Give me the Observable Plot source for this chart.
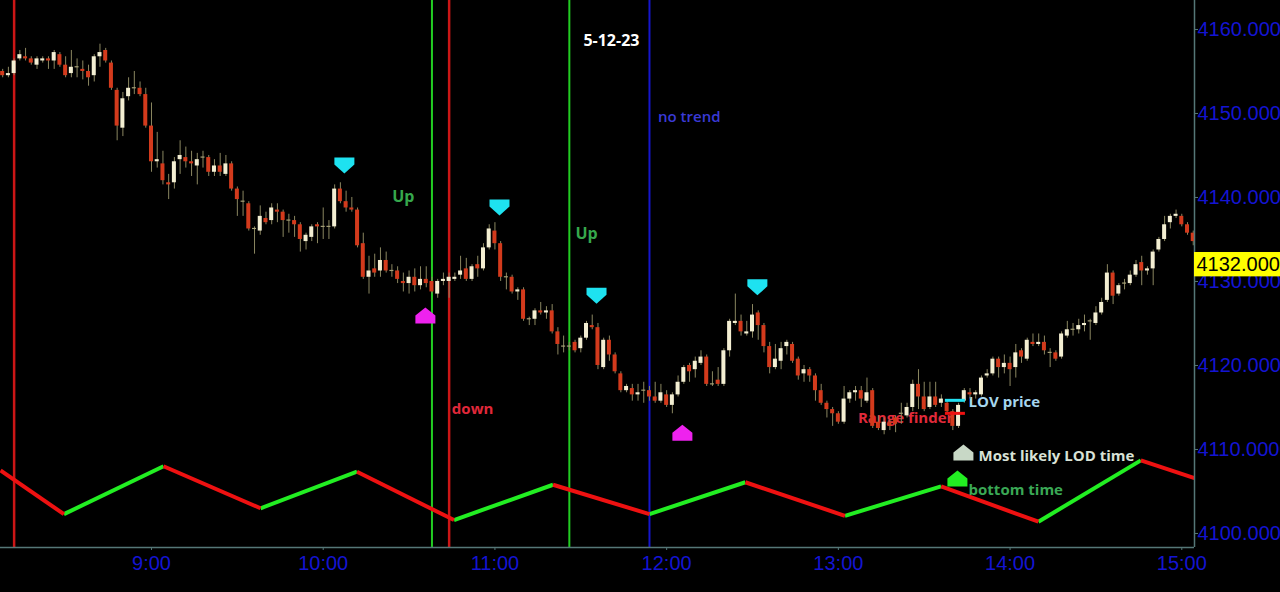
<!DOCTYPE html>
<html><head><meta charset="utf-8">
<script src="https://cdn.jsdelivr.net/npm/d3@7"></script>
<script src="https://cdn.jsdelivr.net/npm/@observablehq/plot@0.6"></script>
<style>html,body{margin:0;padding:0;background:#000;overflow:hidden}</style>
</head><body><div id="chart"></div>
<script>
// ---- DATA ----
// 2-minute bars, first bar 8:08 (minutes after midnight)
const barStart = 488;
const barStep = 2;
const opens = [
4155.0,4154.5,4154.75,4156.5,4156.75,4156.5,4155.75,4156.25,4156.5,4156.25,
4157.0,4155.75,4154.75,4155.5,4155.25,4155.0,4154.5,4156.75,4157.5,4156.0,
4152.75,4148.25,4152.0,4153.0,4153.0,4152.25,4148.5,4144.25,4144.0,4141.75,
4141.75,4144.5,4144.75,4144.25,4143.75,4144.75,4144.75,4143.0,4143.75,4142.75,
4144.0,4141.0,4139.5,4139.25,4136.25,4136.0,4137.5,4137.25,4138.5,4138.25,
4137.25,4137.25,4136.75,4134.75,4135.25,4136.75,4136.5,4136.5,4136.5,4141.0,
4139.5,4138.75,4138.5,4134.5,4130.5,4131.5,4131.25,4132.5,4131.25,4131.25,
4130.0,4129.75,4130.5,4129.5,4130.25,4130.0,4128.5,4130.0,4130.0,4130.25,
4130.75,4131.5,4130.25,4132.0,4131.5,4134.0,4136.0,4134.5,4130.5,4130.5,
4128.75,4129.0,4125.5,4125.5,4126.5,4126.25,4126.5,4124.0,4122.25,4122.25,
4122.75,4122.0,4123.25,4124.75,4124.5,4119.75,4123.0,4121.25,4119.0,4117.0,
4117.25,4116.5,4117.0,4117.0,4116.25,4115.75,4116.5,4115.25,4116.5,4118.0,
4120.0,4119.5,4120.25,4121.0,4117.75,4118.25,4117.75,4121.75,4125.0,4125.25,
4123.75,4124.0,4126.25,4124.75,4122.25,4119.75,4120.5,4122.25,4122.5,4120.75,
4119.0,4119.5,4118.75,4117.0,4115.5,4114.75,4114.25,4113.25,4116.0,4116.75,
4117.0,4115.75,4117.0,4113.25,4112.25,4113.25,4113.75,4114.25,4114.0,4115.0,
4117.75,4116.25,4115.0,4116.25,4115.5,4115.5,4114.5,4112.75,4115.75,4116.75,
4116.5,4116.5,4118.75,4119.0,4120.75,4119.75,4120.25,4119.75,4121.75,4120.75,
4122.75,4122.5,4122.75,4121.5,4121.5,4121.0,4123.5,4124.25,4124.25,4124.75,
4125.25,4125.0,4126.25,4127.75,4131.0,4128.5,4129.75,4129.75,4130.75,4132.25,
4131.25,4131.5,4133.75,4135.0,4137.0,4137.75,4137.75,4136.75,4135.75];
const highs = [
4155.25,4155.5,4156.5,4157.5,4157.75,4156.75,4156.75,4156.75,4156.75,4157.5,
4157.25,4156.75,4157.5,4156.5,4156.25,4155.75,4157.0,4158.25,4157.75,4156.25,
4153.0,4152.5,4154.25,4155.0,4153.75,4153.0,4151.25,4147.75,4145.5,4142.75,
4144.75,4146.75,4146.0,4145.5,4145.25,4145.5,4145.0,4144.5,4145.25,4145.0,
4144.25,4141.25,4140.75,4139.5,4136.5,4139.0,4138.25,4139.25,4139.25,4138.5,
4138.0,4137.75,4137.0,4135.75,4136.75,4137.0,4138.75,4137.25,4141.5,4141.75,
4140.75,4140.0,4138.75,4135.75,4133.0,4133.25,4134.0,4133.5,4132.0,4131.75,
4131.0,4131.25,4131.5,4131.75,4131.75,4130.5,4130.25,4131.0,4131.0,4131.0,
4133.0,4132.75,4132.0,4133.0,4134.5,4136.75,4137.0,4134.75,4131.0,4130.75,
4129.25,4129.25,4125.75,4126.75,4127.5,4127.0,4127.25,4124.5,4123.5,4122.75,
4123.0,4123.5,4125.25,4126.0,4125.0,4123.25,4123.5,4121.5,4119.25,4117.75,
4117.75,4117.75,4118.0,4117.5,4118.0,4117.75,4117.0,4116.75,4118.75,4120.0,
4120.25,4121.0,4121.75,4121.25,4119.25,4119.75,4122.0,4125.5,4128.5,4126.0,
4125.25,4127.25,4126.5,4125.0,4122.75,4122.5,4122.75,4123.0,4122.75,4121.0,
4120.0,4119.75,4119.0,4117.75,4115.75,4115.0,4114.5,4117.5,4117.0,4117.5,
4117.5,4118.5,4117.25,4114.0,4113.75,4113.5,4114.0,4115.5,4115.5,4118.25,
4119.5,4118.0,4118.0,4118.0,4116.5,4115.75,4114.75,4115.5,4117.25,4117.25,
4117.0,4118.75,4119.5,4121.0,4121.0,4121.25,4121.0,4122.5,4122.0,4123.25,
4123.75,4123.75,4123.5,4122.0,4121.75,4124.0,4125.25,4125.0,4125.5,4126.0,
4125.5,4127.0,4128.0,4132.0,4131.25,4129.75,4130.25,4131.25,4132.5,4133.0,
4131.75,4133.75,4135.25,4137.75,4138.0,4138.5,4138.0,4137.0,4136.0];
const lows = [
4154.25,4154.25,4154.5,4156.25,4156.25,4155.75,4155.25,4156.0,4155.25,4155.25,
4155.5,4154.25,4154.25,4154.25,4154.0,4153.25,4153.75,4155.5,4156.0,4152.75,
4146.75,4147.25,4151.5,4152.25,4152.0,4148.25,4143.0,4143.5,4141.5,4139.75,
4141.0,4142.75,4143.5,4142.5,4141.5,4143.5,4142.5,4142.5,4142.5,4142.5,
4140.75,4137.75,4137.75,4136.0,4133.25,4135.5,4136.75,4136.75,4137.0,4135.25,
4135.75,4135.25,4133.5,4133.75,4134.75,4134.5,4135.0,4135.0,4136.25,4139.25,
4138.25,4138.25,4134.0,4130.25,4128.5,4130.5,4130.5,4131.0,4130.5,4129.75,
4128.75,4128.5,4128.75,4129.0,4129.25,4128.5,4128.0,4129.5,4128.0,4130.0,
4130.25,4130.0,4130.0,4130.5,4131.25,4133.75,4133.75,4130.0,4129.0,4128.5,
4127.75,4125.25,4124.75,4124.75,4126.0,4125.5,4123.75,4121.25,4121.5,4121.75,
4121.5,4121.5,4123.0,4124.25,4119.5,4119.5,4120.5,4119.0,4116.75,4116.75,
4115.75,4115.75,4115.5,4115.75,4115.5,4115.5,4115.0,4114.25,4116.25,4117.75,
4118.0,4118.5,4120.0,4117.5,4117.5,4117.5,4117.5,4121.0,4124.75,4123.5,
4123.5,4123.25,4123.0,4121.5,4119.0,4119.5,4119.5,4121.25,4120.25,4118.25,
4118.0,4118.0,4115.75,4115.25,4113.75,4112.75,4113.0,4113.0,4115.5,4115.75,
4115.0,4115.5,4112.5,4112.25,4111.75,4112.25,4112.0,4113.0,4113.75,4114.5,
4114.75,4114.5,4114.75,4115.0,4115.0,4114.25,4112.25,4112.5,4115.5,4116.0,
4116.0,4116.25,4118.5,4118.75,4118.5,4119.0,4117.5,4118.5,4120.25,4120.5,
4122.25,4122.25,4121.25,4119.75,4120.5,4120.75,4123.25,4123.5,4123.75,4124.0,
4123.0,4124.75,4126.0,4127.5,4127.25,4128.25,4129.0,4129.5,4130.5,4129.5,
4130.75,4129.5,4133.5,4134.75,4136.25,4137.5,4136.5,4135.5,4134.25];
const closes = [
4154.5,4154.75,4156.25,4157.0,4156.5,4156.0,4156.5,4156.5,4156.25,4157.25,
4155.75,4154.5,4155.5,4155.5,4155.0,4154.25,4156.75,4157.25,4156.25,4153.0,
4148.5,4151.75,4153.0,4153.0,4152.25,4148.5,4144.25,4144.5,4142.0,4141.5,
4144.25,4145.0,4144.25,4144.0,4144.5,4144.75,4143.0,4143.75,4143.0,4144.0,
4141.0,4139.75,4139.5,4136.25,4136.25,4137.75,4137.0,4138.75,4138.25,4137.25,
4137.25,4136.75,4135.0,4135.5,4136.5,4136.5,4136.5,4136.5,4141.0,4139.5,
4138.75,4138.5,4134.25,4130.5,4131.25,4131.0,4132.5,4131.25,4131.25,4130.25,
4129.75,4130.5,4129.5,4130.25,4129.75,4128.75,4130.0,4130.25,4130.5,4130.5,
4131.25,4130.25,4131.75,4131.5,4134.0,4136.25,4134.5,4130.5,4130.5,4128.75,
4129.0,4125.5,4125.5,4126.5,4126.25,4126.5,4124.0,4122.5,4122.25,4122.25,
4121.75,4123.25,4125.0,4124.5,4120.0,4123.0,4121.25,4119.25,4117.0,4117.5,
4116.5,4116.75,4117.0,4116.25,4115.75,4116.75,4115.25,4116.5,4118.0,4119.75,
4119.25,4120.5,4121.0,4117.75,4117.75,4117.75,4121.75,4125.25,4125.25,4124.0,
4124.0,4126.0,4124.75,4122.25,4119.75,4120.75,4122.0,4122.75,4120.5,4118.75,
4119.5,4118.75,4117.0,4115.5,4114.75,4114.25,4113.25,4116.0,4116.75,4117.0,
4116.0,4116.75,4112.75,4112.5,4113.25,4112.75,4113.0,4114.25,4115.0,4117.75,
4116.25,4114.75,4116.25,4115.25,4116.0,4114.5,4112.75,4115.25,4117.0,4116.5,
4116.75,4118.5,4119.0,4120.75,4119.75,4120.25,4119.5,4121.5,4121.0,4123.0,
4122.5,4122.75,4121.75,4121.5,4120.75,4123.75,4124.25,4124.25,4124.75,4125.0,
4125.25,4126.25,4127.5,4131.0,4128.25,4129.5,4129.75,4130.75,4132.0,4131.25,
4131.5,4133.5,4135.0,4136.75,4137.75,4138.0,4136.75,4135.75,4134.75];

// zig-zag cycle line (time in minutes after midnight, price)
const cycleTimes  = [487.24,509.4,544.2,578.1,611.8,645.7,680.3,714.0,747.5,782.3,815.9,849.9,885.7,904.44];
const cyclePrices = [4107.5,4102.3,4108.0,4103.0,4107.35,4101.6,4105.8,4102.3,4106.1,4102.1,4105.6,4101.4,4108.7,4106.6];

// vertical time markers
const redLineTimes = [492, 644];
const greenLineTimes = [638, 686];
const blueLineTimes = [714];

// arrow markers (time, price)
const topArrowTimes = [607.4, 661.6, 695.5, 751.7];
const topArrowPrices = [4143.8, 4138.8, 4128.3, 4129.3];
const bottomArrowTimes = [635.7, 725.5];
const bottomArrowPrices = [4125.95, 4112.0];
const lodArrowTime = [823.7], lodArrowPrice = [4109.65];
const bottomTimeArrowTime = [821.6], bottomTimeArrowPrice = [4106.55];

// LOV / range finder levels
const lovPrice = 4115.85, rangePrice = 4114.3;
const lovStart = 817.4, lovEnd = 824.4;

// annotations
const noteLabels = ["5-12-23","no trend","Up","Up","down","Range finder","LOV price","Most likely LOD time","bottom time"];
const noteTimes  = [700.7, 727.9, 628.0, 692.0, 652.2, 803.5, 825.5, 829.0, 825.5];
const notePrices = [4158.7, 4149.5, 4140.1, 4135.7, 4114.75, 4113.7, 4115.6, 4109.15, 4105.2];

// axis ticks
const xTickValues = [540, 600, 660, 720, 780, 840, 900];
const xTickLabels = ["9:00","10:00","11:00","12:00","13:00","14:00","15:00"];
const yTickValues = [4100, 4110, 4120, 4130, 4140, 4150, 4160];
const yTickLabels = ["4100.0000","4110.0000","4120.0000","4130.0000","4140.0000","4150.0000","4160.0000"];
const lastPrice = 4132;
const lastPriceLabel = "4132.0000";

// ---- BUILD ----
const xDomain = [487.24, 904.44];
const yDomain = [4098.33, 4163.45];
const bars = opens.map((o, i) => ({t: barStart + barStep * i, o, h: highs[i], l: lows[i], c: closes[i]}));
const upBars = bars.filter(d => d.c > d.o);
const downBars = bars.filter(d => d.c < d.o);
const dojiBars = bars.filter(d => d.c === d.o);
const cyclePts = cycleTimes.map((t, i) => ({t, p: cyclePrices[i]}));
const segs = d3.pairs(cyclePts).map(([a, b]) => ({x1: a.t, y1: a.p, x2: b.t, y2: b.p}));
const pts = (ts, ps) => ts.map((t, i) => ({t, p: ps[i]}));

const halfW = 0.7;
const bodyMarks = (data, fill) => Plot.rect(data, {
  x1: d => d.t - halfW, x2: d => d.t + halfW,
  y1: d => Math.min(d.o, d.c) - (d.o === d.c ? 0.07 : 0),
  y2: d => Math.max(d.o, d.c) + (d.o === d.c ? 0.07 : 0),
  fill
});

function shape(points) {
  return {draw(ctx, size) {
    const s = Math.sqrt(size / Math.PI) / 10;
    points.forEach(([x, y], i) => i ? ctx.lineTo(x * s, y * s) : ctx.moveTo(x * s, y * s));
    ctx.closePath();
  }};
}
const downArrow = shape([[-10,-8],[10,-8],[10,-1],[0,8],[-10,-1]]);
const upArrow = shape([[0,-8],[10,0],[10,8],[-10,8],[-10,0]]);

const noteStyle = [
  {fill:"#ffffff", size:16, weight:"bold", anchor:"middle"},
  {fill:"#3a3ad6", size:15, weight:"600", anchor:"middle"},
  {fill:"#36a84c", size:16, weight:"bold", anchor:"middle"},
  {fill:"#36a84c", size:16, weight:"bold", anchor:"middle"},
  {fill:"#e0283a", size:15, weight:"bold", anchor:"middle"},
  {fill:"#e02a3a", size:15, weight:"bold", anchor:"middle"},
  {fill:"#a6d6ee", size:15, weight:"bold", anchor:"start"},
  {fill:"#d8e2d6", size:15, weight:"bold", anchor:"start"},
  {fill:"#3aa855", size:15, weight:"bold", anchor:"start"}
];
const noteMarks = noteLabels.map((label, i) => Plot.text([{t: noteTimes[i], p: notePrices[i], label}], {
  x: "t", y: "p", text: "label", fill: noteStyle[i].fill, fontSize: noteStyle[i].size,
  fontWeight: noteStyle[i].weight, textAnchor: noteStyle[i].anchor, fontFamily: "Open Sans"
}));

const axisColor = "#557777";
const labelBlue = "#1414d2";
const xLab = new Map(xTickValues.map((v, i) => [v, xTickLabels[i]]));
const yLab = new Map(yTickValues.map((v, i) => [v, yTickLabels[i]]));

const chart = Plot.plot({
  width: 1280, height: 592,
  marginLeft: 0, marginRight: 86, marginTop: 0, marginBottom: 45,
  style: {background: "#000", fontFamily: "Liberation Sans, Arial, sans-serif"},
  x: {domain: xDomain},
  y: {domain: yDomain},
  marks: [
    Plot.ruleX(redLineTimes, {stroke: "#cc1616", strokeWidth: 2.5}),
    Plot.ruleX(greenLineTimes, {stroke: "#22cc22", strokeWidth: 2}),
    Plot.ruleX(blueLineTimes, {stroke: "#1616cc", strokeWidth: 2}),
    Plot.link(segs.filter(d => d.y2 > d.y1), {x1:"x1", y1:"y1", x2:"x2", y2:"y2", stroke:"#22ee22", strokeWidth:4}),
    Plot.link(segs.filter(d => d.y2 <= d.y1), {x1:"x1", y1:"y1", x2:"x2", y2:"y2", stroke:"#ee1111", strokeWidth:4}),
    ...noteMarks,
    Plot.ruleX(bars, {x: "t", y1: "l", y2: "h", stroke: "#8a8660", strokeWidth: 1}),
    bodyMarks(upBars, "#f3eed2"),
    bodyMarks(downBars, "#d33a1c"),
    bodyMarks(dojiBars, "#a8a278"),
    Plot.dot(pts(topArrowTimes, topArrowPrices), {x:"t", y:"p", r:10, symbol: downArrow, fill:"#1ee2f0", stroke:"none"}),
    Plot.dot(pts(bottomArrowTimes, bottomArrowPrices), {x:"t", y:"p", r:10, symbol: upArrow, fill:"#ee22ee", stroke:"none"}),
    Plot.dot(pts(lodArrowTime, lodArrowPrice), {x:"t", y:"p", r:10, symbol: upArrow, fill:"#c8d8c6", stroke:"none"}),
    Plot.dot(pts(bottomTimeArrowTime, bottomTimeArrowPrice), {x:"t", y:"p", r:10, symbol: upArrow, fill:"#22ee22", stroke:"none"}),
    Plot.ruleY([lovPrice], {x1: lovStart, x2: lovEnd, stroke: "#22e0f0", strokeWidth: 3}),
    Plot.ruleY([rangePrice], {x1: lovStart, x2: lovEnd, stroke: "#ee1111", strokeWidth: 3}),
    Plot.axisX({ticks: xTickValues, tickFormat: d => xLab.get(d), tickSize: 3, tickPadding: 5,
      stroke: axisColor, fill: labelBlue, fontSize: 20}),
    Plot.axisY({anchor: "right", ticks: yTickValues, tickFormat: d => yLab.get(d), tickSize: 3, tickPadding: 0,
      stroke: axisColor, fill: labelBlue, fontSize: 20, textAnchor: "start"}),
    Plot.ruleY([yDomain[0]], {stroke: axisColor, strokeWidth: 1.5}),
    Plot.ruleX([xDomain[1]], {stroke: axisColor, strokeWidth: 1.5}),
    Plot.rect([{p: lastPrice}], {x1: xDomain[1], x2: xDomain[1] + 30.1, y1: d => d.p - 1.45, y2: d => d.p + 1.45, fill: "#ffff00"}),
    Plot.text([{p: lastPrice, label: lastPriceLabel}], {x: () => xDomain[1], y: "p", text: "label", dx: 2, textAnchor: "start", fill: "#000", fontSize: 20})
  ]
});
document.getElementById("chart").appendChild(chart);
</script></body></html>
